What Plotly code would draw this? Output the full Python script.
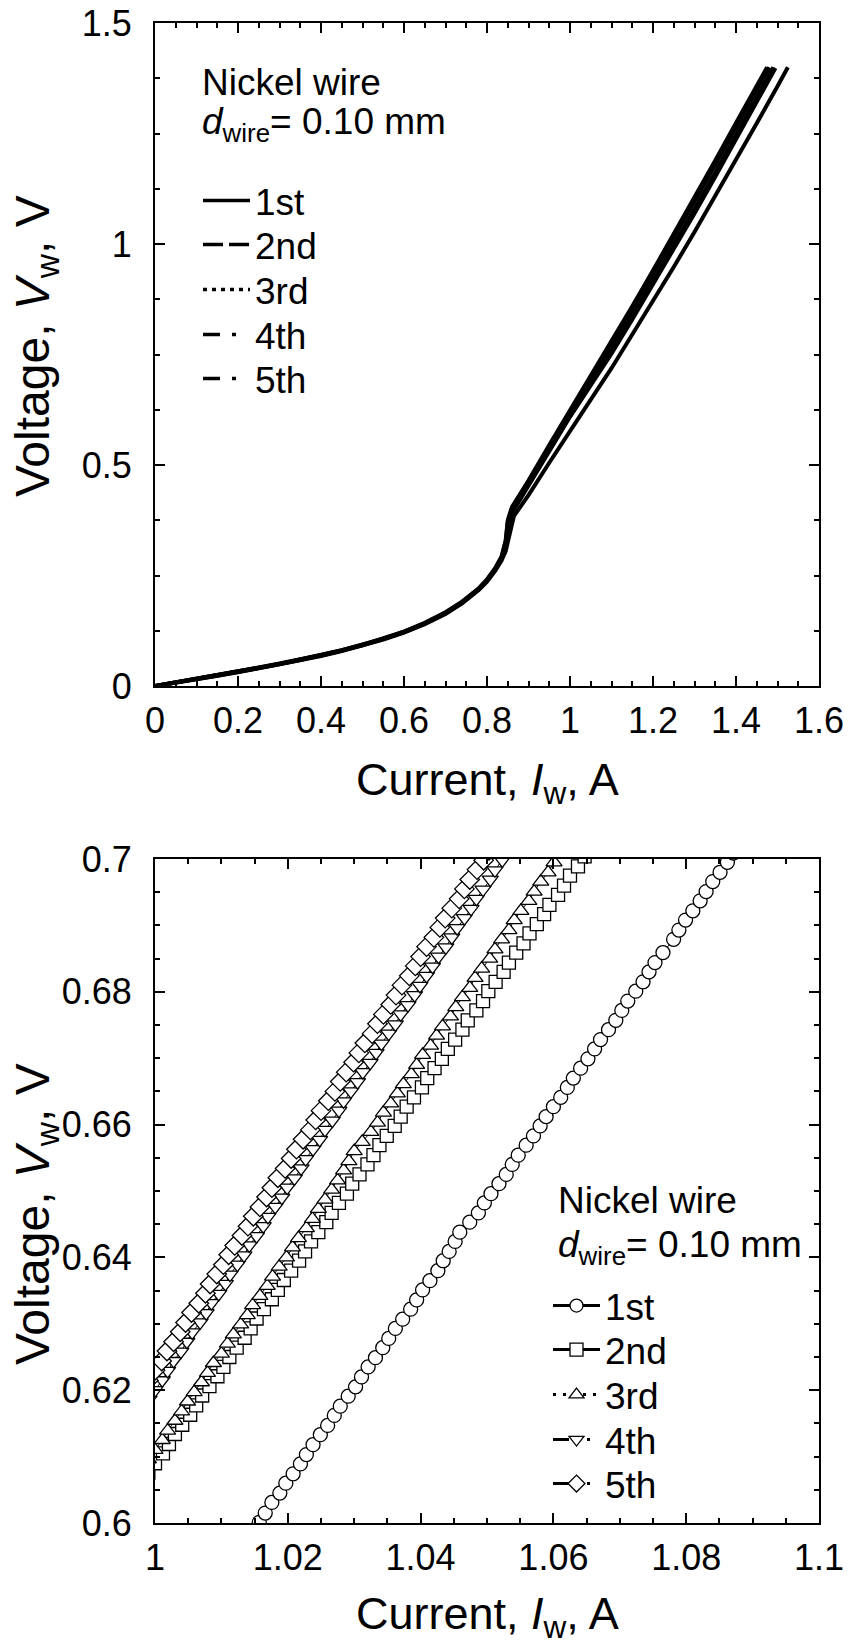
import plotly.graph_objects as go

FONT = "Arial, Liberation Sans, sans-serif"
W, H = 850, 1646

run_names = ["1st", "2nd", "3rd", "4th", "5th"]

# ---------------- upper panel: full I-V sweeps ----------------
i_full_1 = [0, 0.05, 0.1, 0.15, 0.2, 0.25, 0.3, 0.35, 0.4, 0.45, 0.5, 0.55, 0.6, 0.65, 0.7, 0.74, 0.78, 0.8,
            0.82, 0.835, 0.845, 0.855, 0.865, 0.88, 0.9, 0.95, 1.0, 1.05, 1.1, 1.15, 1.2, 1.25, 1.3, 1.35, 1.4,
            1.45, 1.5, 1.525]
v_full_1 = [0, 0.007, 0.015, 0.023, 0.031, 0.040, 0.049, 0.058, 0.068, 0.079, 0.091, 0.105, 0.121, 0.140, 0.163,
            0.187, 0.217, 0.236, 0.261, 0.284, 0.305, 0.350, 0.385, 0.405, 0.432, 0.505, 0.578, 0.648, 0.719,
            0.794, 0.871, 0.948, 1.027, 1.108, 1.190, 1.273, 1.357, 1.400]

i_full_2 = [0, 0.05, 0.1, 0.15, 0.2, 0.25, 0.3, 0.35, 0.4, 0.45, 0.5, 0.55, 0.6, 0.65, 0.7, 0.74, 0.78, 0.8,
            0.82, 0.835, 0.845, 0.852, 0.86, 0.88, 0.9, 0.95, 1.0, 1.05, 1.1, 1.15, 1.2, 1.25, 1.3, 1.35, 1.4,
            1.45, 1.495]
v_full_2 = [0, 0.007, 0.015, 0.023, 0.032, 0.040, 0.049, 0.059, 0.069, 0.080, 0.092, 0.106, 0.122, 0.141, 0.164,
            0.188, 0.218, 0.238, 0.263, 0.287, 0.318, 0.362, 0.392, 0.422, 0.452, 0.531, 0.609, 0.680, 0.752,
            0.829, 0.908, 0.988, 1.069, 1.152, 1.236, 1.320, 1.398]

i_full_3 = [0, 0.05, 0.1, 0.15, 0.2, 0.25, 0.3, 0.35, 0.4, 0.45, 0.5, 0.55, 0.6, 0.65, 0.7, 0.74, 0.78, 0.8,
            0.82, 0.835, 0.845, 0.852, 0.86, 0.88, 0.9, 0.95, 1.0, 1.05, 1.1, 1.15, 1.2, 1.25, 1.3, 1.35, 1.4,
            1.45, 1.49]
v_full_3 = [0, 0.008, 0.015, 0.024, 0.032, 0.041, 0.050, 0.059, 0.069, 0.080, 0.092, 0.106, 0.122, 0.141, 0.165,
            0.189, 0.219, 0.239, 0.264, 0.288, 0.320, 0.365, 0.395, 0.425, 0.455, 0.533, 0.611, 0.685, 0.760,
            0.838, 0.917, 0.997, 1.079, 1.162, 1.246, 1.331, 1.400]

i_full_4 = [0, 0.05, 0.1, 0.15, 0.2, 0.25, 0.3, 0.35, 0.4, 0.45, 0.5, 0.55, 0.6, 0.65, 0.7, 0.74, 0.78, 0.8,
            0.82, 0.835, 0.845, 0.85, 0.86, 0.88, 0.9, 0.95, 1.0, 1.05, 1.1, 1.15, 1.2, 1.25, 1.3, 1.35, 1.4,
            1.45, 1.48]
v_full_4 = [0, 0.008, 0.016, 0.024, 0.032, 0.041, 0.050, 0.060, 0.070, 0.081, 0.093, 0.107, 0.123, 0.142, 0.166,
            0.190, 0.220, 0.240, 0.266, 0.291, 0.325, 0.370, 0.402, 0.432, 0.462, 0.541, 0.620, 0.696, 0.774,
            0.853, 0.933, 1.014, 1.096, 1.179, 1.263, 1.348, 1.400]

i_full_5 = [0, 0.05, 0.1, 0.15, 0.2, 0.25, 0.3, 0.35, 0.4, 0.45, 0.5, 0.55, 0.6, 0.65, 0.7, 0.74, 0.78, 0.8,
            0.82, 0.835, 0.845, 0.85, 0.86, 0.88, 0.9, 0.95, 1.0, 1.05, 1.1, 1.15, 1.2, 1.25, 1.3, 1.35, 1.4,
            1.45, 1.475]
v_full_5 = [0, 0.008, 0.016, 0.024, 0.033, 0.042, 0.051, 0.060, 0.070, 0.081, 0.093, 0.107, 0.123, 0.143, 0.167,
            0.191, 0.221, 0.241, 0.267, 0.293, 0.330, 0.375, 0.405, 0.435, 0.465, 0.545, 0.623, 0.700, 0.779,
            0.859, 0.940, 1.022, 1.105, 1.189, 1.274, 1.358, 1.400]

# ---------------- lower panel: close-up of the linear region ----------------
i_zoom_1 = [1.0145, 1.0157, 1.0166, 1.0176, 1.0188, 1.0197, 1.0208, 1.0219, 1.0228, 1.0238, 1.0249, 1.0260,
            1.0270, 1.0279, 1.0291, 1.0302, 1.0311, 1.0321, 1.0332, 1.0343, 1.0352, 1.0362, 1.0373, 1.0385,
            1.0394, 1.0403, 1.0414, 1.0426, 1.0434, 1.0443, 1.0452, 1.0459, 1.0474, 1.0487, 1.0496, 1.0506,
            1.0518, 1.0529, 1.0538, 1.0547, 1.0559, 1.0570, 1.0580, 1.0589, 1.0600, 1.0611, 1.0621, 1.0630,
            1.0641, 1.0652, 1.0662, 1.0671, 1.0683, 1.0694, 1.0703, 1.0712, 1.0724, 1.0735, 1.0744, 1.0753,
            1.0765, 1.0781, 1.0789, 1.0799, 1.0810, 1.0821, 1.0830, 1.0840, 1.0851, 1.0862, 1.0871]
v_zoom_1 = [0.5986, 0.6001, 0.6015, 0.6031, 0.6045, 0.6060, 0.6074, 0.6089, 0.6103, 0.6118, 0.6133, 0.6147,
            0.6162, 0.6176, 0.6191, 0.6205, 0.6220, 0.6235, 0.6249, 0.6264, 0.6278, 0.6293, 0.6307, 0.6322,
            0.6336, 0.6351, 0.6365, 0.6380, 0.6395, 0.6409, 0.6424, 0.6438, 0.6453, 0.6467, 0.6482, 0.6496,
            0.6511, 0.6525, 0.6540, 0.6554, 0.6569, 0.6583, 0.6598, 0.6612, 0.6627, 0.6641, 0.6656, 0.6670,
            0.6685, 0.6699, 0.6714, 0.6728, 0.6743, 0.6757, 0.6772, 0.6786, 0.6801, 0.6815, 0.6830, 0.6844,
            0.6859, 0.6879, 0.6893, 0.6908, 0.6922, 0.6937, 0.6951, 0.6966, 0.6980, 0.6995, 0.7009]

i_zoom_2 = [0.9990, 1.0000, 1.0012, 1.0021, 1.0030, 1.0041, 1.0053, 1.0062, 1.0071, 1.0082, 1.0094, 1.0103,
            1.0112, 1.0123, 1.0135, 1.0144, 1.0153, 1.0164, 1.0176, 1.0185, 1.0194, 1.0205, 1.0217, 1.0226,
            1.0235, 1.0246, 1.0258, 1.0266, 1.0277, 1.0289, 1.0297, 1.0308, 1.0320, 1.0329, 1.0338, 1.0349,
            1.0361, 1.0370, 1.0379, 1.0390, 1.0402, 1.0410, 1.0421, 1.0432, 1.0441, 1.0452, 1.0463, 1.0471,
            1.0484, 1.0494, 1.0502, 1.0513, 1.0525, 1.0533, 1.0544, 1.0555, 1.0564, 1.0575, 1.0586, 1.0594,
            1.0607, 1.0616, 1.0625, 1.0637, 1.0647]
v_zoom_2 = [0.6076, 0.6090, 0.6105, 0.6119, 0.6134, 0.6148, 0.6163, 0.6177, 0.6192, 0.6206, 0.6221, 0.6235,
            0.6250, 0.6264, 0.6279, 0.6293, 0.6308, 0.6322, 0.6337, 0.6351, 0.6366, 0.6380, 0.6395, 0.6409,
            0.6424, 0.6438, 0.6453, 0.6467, 0.6482, 0.6496, 0.6511, 0.6525, 0.6540, 0.6554, 0.6569, 0.6583,
            0.6598, 0.6612, 0.6627, 0.6641, 0.6656, 0.6670, 0.6685, 0.6699, 0.6714, 0.6728, 0.6743, 0.6757,
            0.6772, 0.6786, 0.6801, 0.6815, 0.6830, 0.6844, 0.6859, 0.6873, 0.6888, 0.6902, 0.6917, 0.6931,
            0.6946, 0.6960, 0.6975, 0.6989, 0.7004]

i_zoom_3 = [0.9990, 1.0000, 1.0011, 1.0019, 1.0030, 1.0040, 1.0049, 1.0059, 1.0070, 1.0079, 1.0088, 1.0100,
            1.0109, 1.0118, 1.0129, 1.0139, 1.0147, 1.0158, 1.0169, 1.0177, 1.0187, 1.0198, 1.0207, 1.0216,
            1.0228, 1.0237, 1.0246, 1.0256, 1.0266, 1.0275, 1.0284, 1.0292, 1.0300, 1.0312, 1.0325, 1.0335,
            1.0344, 1.0355, 1.0365, 1.0374, 1.0386, 1.0394, 1.0403, 1.0415, 1.0424, 1.0433, 1.0445, 1.0453,
            1.0463, 1.0474, 1.0482, 1.0492, 1.0504, 1.0512, 1.0522, 1.0533, 1.0541, 1.0551, 1.0563, 1.0571,
            1.0581, 1.0592, 1.0601, 1.0611]
v_zoom_3 = [0.6096, 0.6110, 0.6125, 0.6139, 0.6154, 0.6168, 0.6183, 0.6197, 0.6212, 0.6226, 0.6241, 0.6255,
            0.6270, 0.6284, 0.6299, 0.6313, 0.6328, 0.6342, 0.6357, 0.6371, 0.6386, 0.6400, 0.6415, 0.6429,
            0.6444, 0.6458, 0.6473, 0.6487, 0.6502, 0.6516, 0.6531, 0.6545, 0.6560, 0.6574, 0.6589, 0.6603,
            0.6618, 0.6632, 0.6647, 0.6661, 0.6676, 0.6690, 0.6705, 0.6719, 0.6734, 0.6748, 0.6763, 0.6777,
            0.6792, 0.6806, 0.6821, 0.6835, 0.6850, 0.6864, 0.6879, 0.6893, 0.6908, 0.6922, 0.6937, 0.6951,
            0.6966, 0.6980, 0.6995, 0.7009]

i_zoom_4 = [0.9991, 1.0000, 1.0011, 1.0019, 1.0028, 1.0039, 1.0048, 1.0056, 1.0068, 1.0077, 1.0085, 1.0096,
            1.0106, 1.0113, 1.0124, 1.0134, 1.0142, 1.0153, 1.0163, 1.0170, 1.0181, 1.0191, 1.0199, 1.0210,
            1.0220, 1.0227, 1.0238, 1.0248, 1.0256, 1.0267, 1.0277, 1.0284, 1.0295, 1.0305, 1.0313, 1.0324,
            1.0333, 1.0341, 1.0352, 1.0362, 1.0370, 1.0381, 1.0391, 1.0399, 1.0409, 1.0418, 1.0427, 1.0438,
            1.0447, 1.0455, 1.0466, 1.0476, 1.0484, 1.0494, 1.0505, 1.0512, 1.0523, 1.0532]
v_zoom_4 = [0.6186, 0.6200, 0.6215, 0.6229, 0.6244, 0.6258, 0.6273, 0.6287, 0.6302, 0.6316, 0.6331, 0.6345,
            0.6360, 0.6374, 0.6389, 0.6403, 0.6418, 0.6432, 0.6447, 0.6461, 0.6476, 0.6490, 0.6505, 0.6519,
            0.6534, 0.6548, 0.6563, 0.6577, 0.6592, 0.6606, 0.6621, 0.6635, 0.6650, 0.6664, 0.6679, 0.6693,
            0.6708, 0.6722, 0.6737, 0.6751, 0.6766, 0.6780, 0.6795, 0.6809, 0.6824, 0.6838, 0.6853, 0.6867,
            0.6882, 0.6896, 0.6911, 0.6925, 0.6940, 0.6954, 0.6969, 0.6983, 0.6998, 0.7012]

i_zoom_5 = [0.9990, 1.0000, 1.0010, 1.0018, 1.0028, 1.0038, 1.0046, 1.0055, 1.0066, 1.0076, 1.0083, 1.0093,
            1.0103, 1.0111, 1.0120, 1.0131, 1.0140, 1.0148, 1.0158, 1.0168, 1.0176, 1.0185, 1.0196, 1.0205,
            1.0213, 1.0223, 1.0234, 1.0242, 1.0250, 1.0261, 1.0271, 1.0279, 1.0288, 1.0299, 1.0307, 1.0316,
            1.0327, 1.0335, 1.0344, 1.0355, 1.0363, 1.0372, 1.0383, 1.0392, 1.0400, 1.0409, 1.0420, 1.0429,
            1.0437, 1.0447, 1.0458, 1.0466, 1.0474, 1.0485, 1.0495, 1.0503]
v_zoom_5 = [0.6215, 0.6230, 0.6244, 0.6259, 0.6273, 0.6288, 0.6302, 0.6317, 0.6331, 0.6346, 0.6360, 0.6375,
            0.6389, 0.6404, 0.6418, 0.6433, 0.6447, 0.6462, 0.6476, 0.6491, 0.6505, 0.6520, 0.6534, 0.6549,
            0.6563, 0.6578, 0.6592, 0.6607, 0.6621, 0.6636, 0.6650, 0.6665, 0.6679, 0.6694, 0.6708, 0.6723,
            0.6737, 0.6752, 0.6766, 0.6781, 0.6795, 0.6810, 0.6824, 0.6839, 0.6853, 0.6868, 0.6882, 0.6897,
            0.6911, 0.6926, 0.6940, 0.6955, 0.6969, 0.6984, 0.6998, 0.7013]

full_runs = [(i_full_1, v_full_1), (i_full_2, v_full_2), (i_full_3, v_full_3),
             (i_full_4, v_full_4), (i_full_5, v_full_5)]
zoom_runs = [(i_zoom_1, v_zoom_1), (i_zoom_2, v_zoom_2), (i_zoom_3, v_zoom_3),
             (i_zoom_4, v_zoom_4), (i_zoom_5, v_zoom_5)]

# line styles for the legend keys
key_dash_top = ["solid", "20px,6px", "4px,5px", "17px,12px,4px,20px", "17px,12px,4px,20px"]
key_dash_bot = ["solid", "solid", "3px,7px", "16px,18px,3px,20px", "16px,18px,3px,20px"]
symbols = ["circle", "square", "triangle-up", "triangle-down", "diamond"]
sym_size = [14, 13, 14, 14, 15]

# layout geometry (pixels)
px_l, px_r = 155, 819
top_t, top_b = 23, 686
bot_t, bot_b = 859, 1523


def fx(px):
    return px / W


def fy(py):
    return 1 - py / H


fig = go.Figure()

# upper panel curves
for k, (ii, vv) in enumerate(full_runs):
    fig.add_trace(go.Scatter(x=ii, y=vv, mode="lines", xaxis="x", yaxis="y",
                             line=dict(color="black", width=4),
                             showlegend=False, hoverinfo="skip"))

# lower panel points
for k, (ii, vv) in enumerate(zoom_runs):
    fig.add_trace(go.Scatter(x=ii, y=vv, mode="lines+markers", xaxis="x2", yaxis="y2",
                             line=dict(color="black", width=1),
                             marker=dict(symbol=symbols[k], size=sym_size[k], color="white",
                                         line=dict(color="black", width=1.3)),
                             showlegend=False, hoverinfo="skip"))

# legend keys, one small legend per row
legend_font = dict(family=FONT, size=37, color="black")
top_rows = [201, 245, 290, 335, 379]
bot_rows = [1306, 1350, 1395, 1440, 1484]
legend_layout = {}
for k, name in enumerate(run_names):
    lid = "legend" if k == 0 else f"legend{k + 1}"
    fig.add_trace(go.Scatter(x=[None], y=[None], mode="lines", name=name, xaxis="x", yaxis="y",
                             line=dict(color="black", width=3.5, dash=key_dash_top[k]),
                             legend=lid, showlegend=True))
    legend_layout[lid] = dict(x=fx(198), y=fy(top_rows[k]), xanchor="left", yanchor="middle",
                              bgcolor="rgba(0,0,0,0)", itemwidth=47, font=legend_font)
for k, name in enumerate(run_names):
    lid = f"legend{k + 6}"
    fig.add_trace(go.Scatter(x=[None], y=[None], mode="lines+markers", name=name, xaxis="x2", yaxis="y2",
                             line=dict(color="black", width=3, dash=key_dash_bot[k]),
                             marker=dict(symbol=symbols[k], size=13, color="white",
                                         line=dict(color="black", width=1.3)),
                             legend=lid, showlegend=True))
    legend_layout[lid] = dict(x=fx(548), y=fy(bot_rows[k]), xanchor="left", yanchor="middle",
                              bgcolor="rgba(0,0,0,0)", itemwidth=47, font=legend_font)

axis_style = dict(showline=True, linecolor="black", linewidth=2, mirror="allticks",
                  ticks="inside", ticklen=10, tickwidth=1.5, tickcolor="black",
                  showgrid=False, zeroline=False, automargin=False,
                  tickfont=dict(family=FONT, size=36, color="black"))


def minor(step):
    return dict(ticks="inside", dtick=step, ticklen=5, tickwidth=1.5, tickcolor="black", showgrid=False)


fig.update_layout(
    width=W, height=H,
    margin=dict(l=0, r=0, t=0, b=0),
    paper_bgcolor="white", plot_bgcolor="white",
    font=dict(family=FONT, color="black"),
    xaxis=dict(domain=[fx(px_l), fx(px_r)], range=[0, 1.6], tick0=0, dtick=0.2,
               minor=minor(0.05), anchor="y", ticklabelstandoff=2, **axis_style),
    yaxis=dict(domain=[fy(top_b), fy(top_t)], range=[0, 1.5], tick0=0, dtick=0.5,
               minor=minor(0.125), anchor="x", ticklabelstandoff=14, **axis_style),
    xaxis2=dict(domain=[fx(px_l), fx(px_r)], range=[1.0, 1.1], tick0=1.0, dtick=0.02,
                minor=minor(0.005), anchor="y2", ticklabelstandoff=2, **axis_style),
    yaxis2=dict(domain=[fy(bot_b), fy(bot_t)], range=[0.6, 0.7], tick0=0.6, dtick=0.02,
                minor=minor(0.005), anchor="x2", ticklabelstandoff=14, **axis_style),
    **legend_layout,
)

xtitle_font = dict(family=FONT, size=45, color="black")
ytitle_font = dict(family=FONT, size=48, color="black")
note_font = dict(family=FONT, size=37, color="black")
xc = fx((px_l + px_r) / 2)
annotations = [
    dict(text="Current, <i>I</i><sub>w</sub>, A", x=xc, y=fy(782), font=xtitle_font),
    dict(text="Voltage, <i>V</i><sub>w</sub>, V", x=fx(36), y=fy(346),
         textangle=-90, font=ytitle_font),
    dict(text="Current, <i>I</i><sub>w</sub>, A", x=xc, y=fy(1616), font=xtitle_font),
    dict(text="Voltage, <i>V</i><sub>w</sub>, V", x=fx(36), y=fy(1214),
         textangle=-90, font=ytitle_font),
    dict(text="Nickel wire", x=fx(200), y=fy(82), xanchor="left", font=note_font),
    dict(text="<i>d</i><sub>wire</sub>= 0.10 mm", x=fx(200), y=fy(124), xanchor="left", font=note_font),
    dict(text="Nickel wire", x=fx(556), y=fy(1200), xanchor="left", font=note_font),
    dict(text="<i>d</i><sub>wire</sub>= 0.10 mm", x=fx(556), y=fy(1247), xanchor="left", font=note_font),
]
for a in annotations:
    a.setdefault("xanchor", "center")
    fig.add_annotation(xref="paper", yref="paper", showarrow=False, yanchor="middle", **a)

fig.write_html("out.html")
